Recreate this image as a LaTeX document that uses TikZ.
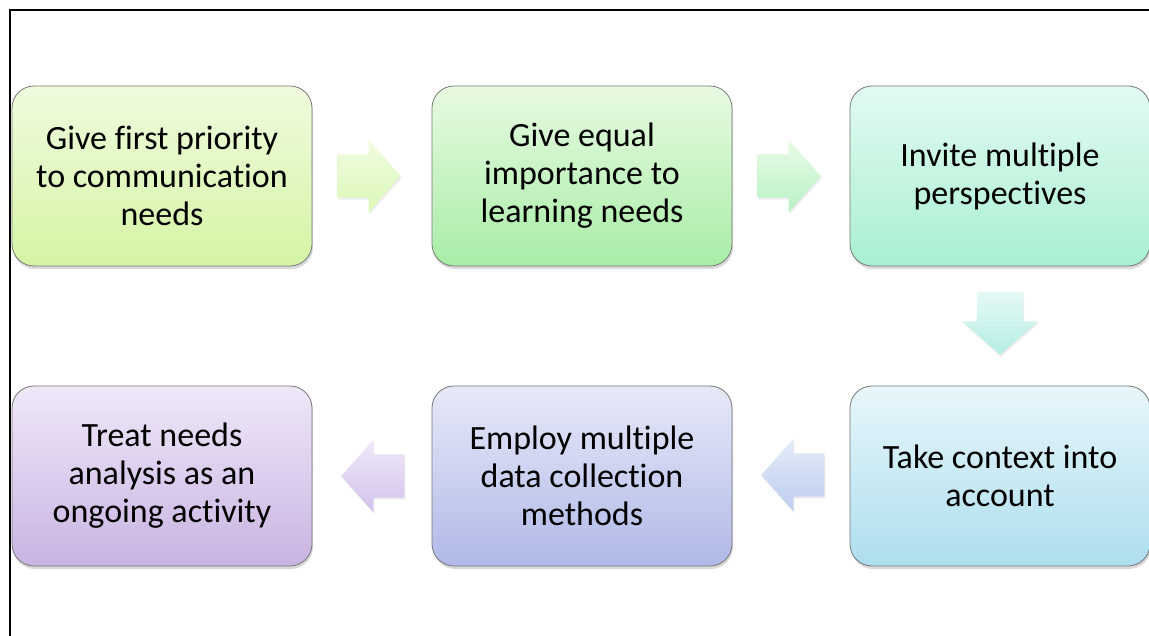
\documentclass[tikz,border=0pt]{standalone}
\usepackage{fontspec}
\setmainfont{Carlito}[Ligatures=NoCommon]
\usetikzlibrary{shapes.arrows,shadows}
\definecolor{na_line}{RGB}{120, 120, 120}
\definecolor{na_t1}{HTML}{EFFBDD}
\definecolor{na_b1}{HTML}{D5F4A5}
\definecolor{na_t2}{HTML}{E8FAE2}
\definecolor{na_b2}{HTML}{A8EDA6}
\definecolor{na_t3}{HTML}{E2FAF0}
\definecolor{na_b3}{HTML}{A9EFD2}
\definecolor{na_t4}{HTML}{E7F6FA}
\definecolor{na_b4}{HTML}{ADDEEE}
\definecolor{na_t5}{HTML}{E7E9F8}
\definecolor{na_b5}{HTML}{B0B9E8}
\definecolor{na_t6}{HTML}{EFE8F8}
\definecolor{na_b6}{HTML}{C9B3E2}
\definecolor{ar_t1}{RGB}{242, 252, 226}
\definecolor{ar_b1}{RGB}{217, 248, 182}
\definecolor{ar_t2}{RGB}{233, 251, 230}
\definecolor{ar_b2}{RGB}{184, 241, 198}
\definecolor{ar_t3}{RGB}{230, 249, 246}
\definecolor{ar_b3}{RGB}{181, 237, 229}
\definecolor{ar_t4}{RGB}{228, 236, 248}
\definecolor{ar_b4}{RGB}{189, 204, 240}
\definecolor{ar_t5}{RGB}{239, 232, 248}
\definecolor{ar_b5}{RGB}{211, 194, 236}
\tikzstyle{bx}=[rectangle,rounded corners=22pt,draw=na_line,
  line width=0.8pt,inner sep=6pt,minimum width=300pt,minimum height=180pt,
  align=center,font=\fontsize{34}{38}\selectfont,
  drop shadow={shadow xshift=1pt,shadow yshift=-3pt,opacity=0.3}]
\tikzstyle{ar}=[single arrow,single arrow head extend=14.5pt,single arrow tip angle=97,
  inner sep=0pt,minimum height=63pt,draw=none,anchor=tip,
  drop shadow={shadow xshift=1pt,shadow yshift=-2pt,opacity=0.15}]
\tikzstyle{arh}=[ar,inner ysep=21.5pt]
\tikzstyle{arv}=[ar,inner xsep=23pt,shape border rotate=270]

\begin{document}
\begin{tikzpicture}[x=1pt,y=-1pt]
    \useasboundingbox (0,0) rectangle (1149,636);
    \draw [line width=1.2pt] (10,650) -- (10,10) -- (1160,10);
    \node [style=bx,top color=na_t1,bottom color=na_b1] (first) at (162,176) {Give first priority\\to communication\\needs};
    \node [style=bx,top color=na_t2,bottom color=na_b2] (second) at (582,176) {Give equal\\importance to\\learning needs};
    \node [style=bx,top color=na_t3,bottom color=na_b3] (third) at (1000,176) {Invite multiple\\perspectives};
    \node [style=bx,top color=na_t4,bottom color=na_b4] (fourth) at (1000,476) {Take context into\\account};
    \node [style=bx,top color=na_t5,bottom color=na_b5] (fifth) at (582,476) {Employ multiple\\data collection\\methods};
    \node [style=bx,top color=na_t6,bottom color=na_b6] (sixth) at (162,476) {Treat needs\\analysis as an\\ongoing activity};
    \node [style=arh,top color=ar_t1,bottom color=ar_b1] (a12) at (401,176) {};
    \node [style=arh,top color=ar_t2,bottom color=ar_b2] (a23) at (821,176) {};
    \node [style=arv,top color=ar_t3,bottom color=ar_b3] (a34) at (1000,355) {};
    \node [style=arh,shape border rotate=180,top color=ar_t4,bottom color=ar_b4] (a45) at (761,475) {};
    \node [style=arh,shape border rotate=180,top color=ar_t5,bottom color=ar_b5] (a56) at (341,476) {};
  \end{tikzpicture}
\end{document}
